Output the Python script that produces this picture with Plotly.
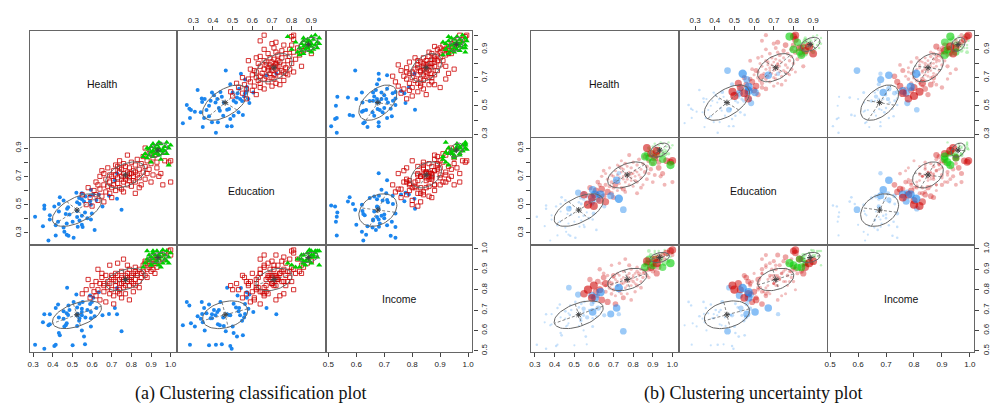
import numpy as np
import plotly.graph_objects as go

variables = ["Health", "Education", "Income"]

# ---- cluster 1 (blue) ----
blue_health = [0.31, 0.35, 0.357, 0.357, 0.378, 0.385, 0.385, 0.408, 0.415, 0.415, 0.427, 0.431, 0.431, 0.436, 0.473,
               0.455, 0.455, 0.459, 0.466, 0.471, 0.471, 0.478, 0.48, 0.485, 0.501, 0.506, 0.52, 0.524, 0.524, 0.524,
               0.527, 0.534, 0.536, 0.536, 0.548, 0.548, 0.548, 0.548, 0.552, 0.559, 0.564, 0.566, 0.576, 0.59, 0.59,
               0.594, 0.594, 0.594, 0.599, 0.606, 0.613, 0.622, 0.634, 0.653, 0.686, 0.727, 0.75, 0.716, 0.727]
blue_education = [0.415, 0.348, 0.495, 0.472, 0.247, 0.425, 0.395, 0.488, 0.283, 0.355, 0.38, 0.452, 0.505, 0.552, 0.472,
                  0.338, 0.53, 0.308, 0.435, 0.288, 0.367, 0.482, 0.28, 0.43, 0.38, 0.267, 0.585, 0.413, 0.455, 0.517,
                  0.345, 0.548, 0.505, 0.388, 0.422, 0.538, 0.358, 0.58, 0.343, 0.522, 0.445, 0.558, 0.405, 0.525, 0.563,
                  0.395, 0.50, 0.605, 0.438, 0.572, 0.322, 0.533, 0.572, 0.488, 0.563, 0.542, 0.465, 0.672, 0.722]
blue_income = [0.53, 0.64, 0.51, 0.68, 0.625, 0.63, 0.68, 0.524, 0.53, 0.71, 0.727, 0.664, 0.588, 0.576, 0.81,
               0.658, 0.694, 0.62, 0.625, 0.635, 0.684, 0.676, 0.723, 0.70, 0.527, 0.74, 0.776, 0.674, 0.622, 0.713,
               0.681, 0.648, 0.731, 0.66, 0.69, 0.674, 0.60, 0.707, 0.74, 0.57, 0.532, 0.664, 0.70, 0.772, 0.73,
               0.66, 0.62, 0.69, 0.74, 0.76, 0.67, 0.71, 0.788, 0.674, 0.681, 0.808, 0.596, 0.71, 0.68]
blue_uncertainty = [0.001, 0, 0.001, 0.001, 0, 0, 0, 0.001, 0, 0.001, 0.002, 0, 0.001, 0.003, 0.15,
                    0, 0.004, 0, 0, 0, 0, 0.001, 0.001, 0.001, 0, 0.002, 0.20, 0, 0, 0.003,
                    0, 0.02, 0.006, 0, 0.001, 0.01, 0, 0.06, 0.002, 0.004, 0, 0.05, 0.002, 0.30, 0.08,
                    0.001, 0.008, 0.35, 0.04, 0.40, 0.002, 0.12, 0.45, 0.05, 0.30, 0.48, 0.25, 0.35, 0.06]

# ---- cluster 2 (red) ----
red_health = [0.55, 0.57, 0.59, 0.60, 0.61, 0.62, 0.62, 0.63, 0.64, 0.64, 0.65, 0.66, 0.66, 0.67, 0.67, 0.68, 0.68,
              0.69, 0.69, 0.70, 0.70, 0.71, 0.71, 0.72, 0.72, 0.72, 0.73, 0.73, 0.74, 0.74, 0.74, 0.75, 0.75, 0.75,
              0.76, 0.76, 0.76, 0.77, 0.77, 0.77, 0.78, 0.78, 0.78, 0.79, 0.79, 0.79, 0.80, 0.80, 0.80, 0.81, 0.81,
              0.82, 0.82, 0.82, 0.83, 0.83, 0.84, 0.84, 0.85, 0.85, 0.86, 0.86, 0.87, 0.87, 0.88, 0.88, 0.89, 0.89,
              0.90, 0.90, 0.91, 0.91, 0.92, 0.93, 0.93, 0.94, 0.95, 0.96, 0.97, 0.99, 1.00, 1.00, 0.69, 0.73, 0.65,
              0.78, 0.71, 0.75, 0.81, 0.84, 0.63, 0.76, 0.79, 0.87, 0.58, 0.70, 0.82, 0.92, 0.74, 0.66]
red_education = [0.57, 0.50, 0.55, 0.49, 0.60, 0.57, 0.66, 0.53, 0.70, 0.61, 0.56, 0.64, 0.72, 0.59, 0.68, 0.63, 0.76,
                 0.66, 0.58, 0.70, 0.62, 0.74, 0.67, 0.60, 0.71, 0.78, 0.65, 0.69, 0.73, 0.62, 0.81, 0.68, 0.70, 0.75,
                 0.66, 0.72, 0.59, 0.70, 0.77, 0.68, 0.73, 0.64, 0.71, 0.69, 0.76, 0.67, 0.72, 0.80, 0.63, 0.74, 0.70,
                 0.78, 0.66, 0.73, 0.71, 0.82, 0.75, 0.69, 0.79, 0.64, 0.73, 0.84, 0.77, 0.68, 0.81, 0.72, 0.86, 0.75,
                 0.79, 0.66, 0.83, 0.71, 0.88, 0.76, 0.80, 0.70, 0.72, 0.64, 0.81, 0.80, 0.66, 0.81, 0.71, 0.77, 0.74,
                 0.85, 0.64, 0.61, 0.67, 0.62, 0.64, 0.79, 0.72, 0.90, 0.62, 0.55, 0.58, 0.85, 0.76, 0.52]
red_income = [0.78, 0.80, 0.76, 0.82, 0.79, 0.84, 0.77, 0.80, 0.83, 0.75, 0.86, 0.79, 0.82, 0.74, 0.87, 0.81, 0.84,
              0.78, 0.83, 0.86, 0.80, 0.77, 0.85, 0.88, 0.82, 0.84, 0.79, 0.87, 0.85, 0.83, 0.80, 0.86, 0.83, 0.89,
              0.81, 0.85, 0.84, 0.87, 0.82, 0.78, 0.86, 0.88, 0.84, 0.85, 0.90, 0.82, 0.87, 0.84, 0.86, 0.88, 0.83,
              0.89, 0.91, 0.85, 0.87, 0.88, 0.84, 0.90, 0.86, 0.88, 0.92, 0.89, 0.87, 0.93, 0.90, 0.86, 0.91, 0.94,
              0.89, 0.92, 0.95, 0.90, 0.93, 0.96, 0.91, 0.94, 0.97, 0.95, 0.98, 0.99, 0.97, 0.995, 0.92, 0.93, 0.88,
              0.92, 0.73, 0.76, 0.79, 0.81, 0.90, 0.95, 0.75, 0.94, 0.85, 0.87, 0.82, 0.88, 0.78, 0.83]
red_uncertainty = [0.35, 0.45, 0.40, 0.42, 0.20, 0.15, 0.08, 0.30, 0.02, 0.25, 0.15, 0.05, 0.01, 0.20, 0.02, 0.04, 0.01,
                   0.03, 0.08, 0.01, 0.03, 0.01, 0.005, 0.01, 0.005, 0.01, 0.01, 0.005, 0.004, 0.02, 0.01, 0.004, 0.004,
                   0.01, 0.008, 0.003, 0.03, 0.003, 0.005, 0.01, 0.003, 0.01, 0.003, 0.003, 0.02, 0.005, 0.004, 0.02,
                   0.008, 0.005, 0.004, 0.02, 0.02, 0.005, 0.006, 0.04, 0.01, 0.02, 0.02, 0.01, 0.05, 0.10, 0.03, 0.03,
                   0.10, 0.02, 0.35, 0.06, 0.06, 0.03, 0.30, 0.04, 0.45, 0.15, 0.12, 0.05, 0.10, 0.04, 0.25, 0.30, 0.05,
                   0.35, 0.02, 0.02, 0.03, 0.05, 0.15, 0.10, 0.02, 0.03, 0.06, 0.04, 0.03, 0.40, 0.12, 0.10, 0.04, 0.20,
                   0.01, 0.30]

# ---- cluster 3 (green) ----
green_health = [0.86, 0.87, 0.88, 0.89, 0.89, 0.90, 0.90, 0.91, 0.91, 0.92, 0.92, 0.93, 0.93, 0.93, 0.94, 0.94,
                0.95, 0.95, 0.96, 0.96, 0.97, 0.97, 0.98, 0.99, 1.00, 0.95, 0.91, 0.98, 0.88, 0.94, 0.99, 0.90]
green_education = [0.84, 0.86, 0.83, 0.89, 0.85, 0.87, 0.91, 0.88, 0.84, 0.90, 0.86, 0.89, 0.92, 0.87, 0.90, 0.85,
                   0.88, 0.93, 0.89, 0.86, 0.91, 0.88, 0.94, 0.90, 0.92, 0.82, 0.93, 0.86, 0.90, 0.94, 0.78, 0.80]
green_income = [0.91, 0.93, 0.95, 0.94, 0.97, 0.92, 0.96, 0.98, 0.95, 0.93, 0.97, 0.96, 0.99, 0.94, 0.97, 0.95,
                0.98, 0.96, 0.995, 0.93, 0.97, 0.95, 0.99, 0.96, 0.98, 0.91, 0.99, 0.94, 0.99, 0.92, 0.93, 0.92]
green_uncertainty = [0.40, 0.15, 0.30, 0.01, 0.05, 0.08, 0.003, 0.002, 0.20, 0.004, 0.02, 0.001, 0.001, 0.01, 0.001,
                     0.10, 0.002, 0.001, 0.001, 0.12, 0.001, 0.005, 0.001, 0.002, 0.001, 0.35, 0.002, 0.02, 0.03,
                     0.001, 0.45, 0.40]

# ---- fitted model (ellipse) parameters ----
cluster_means = [[0.523, 0.462, 0.677], [0.770, 0.710, 0.850], [0.935, 0.885, 0.958]]
cluster_sds = [[0.125, 0.115, 0.068], [0.100, 0.092, 0.055], [0.050, 0.050, 0.025]]
# correlations for (Health,Education), (Health,Income), (Education,Income)
cluster_corr = [[0.56, 0.50, 0.30], [0.45, 0.40, 0.35], [0.40, 0.30, 0.30]]

health_ticks = [0.3, 0.4, 0.5, 0.6, 0.7, 0.8, 0.9, 1.0]
education_ticks = [0.3, 0.4, 0.5, 0.6, 0.7, 0.8, 0.9]
income_ticks = [0.5, 0.6, 0.7, 0.8, 0.9, 1.0]
axis_ranges = [[0.282, 1.028], [0.223, 0.968], [0.494, 1.015]]

cluster_colors = ["#1C86EE", "#CD0000", "#00CD00"]
cluster_rgb = [(28, 134, 238), (205, 0, 0), (0, 205, 0)]
cluster_symbols = ["circle", "square-open", "triangle-up"]
cluster_sizes = [4.0, 4.2, 5.4]

captions = ["(a) Clustering classification plot", "(b) Clustering uncertainty plot"]

# ------------------------------------------------------------------
clusters = [
    (blue_health, blue_education, blue_income, blue_uncertainty),
    (red_health, red_education, red_income, red_uncertainty),
    (green_health, green_education, green_income, green_uncertainty),
]
for c in clusters:
    assert len(set(len(a) for a in c)) == 1, [len(a) for a in c]
cl_data = [np.array(c[:3], dtype=float) for c in clusters]
cl_unc = [np.array(c[3], dtype=float) for c in clusters]

u_all = np.concatenate(cl_unc)
umin, umax = u_all.min(), u_all.max()


def bubble(u):
    x = (u - umin) / (umax - umin)
    r = np.sqrt(x)
    return 2.2 + 6.2 * r, 0.35 + 0.55 * x


def pair_corr(k, a, b):
    key = tuple(sorted((a, b)))
    return cluster_corr[k][{(0, 1): 0, (0, 2): 1, (1, 2): 2}[key]]


def ellipse(k, xv, yv, n=64):
    mx, my = cluster_means[k][xv], cluster_means[k][yv]
    sx, sy = cluster_sds[k][xv], cluster_sds[k][yv]
    rho = pair_corr(k, xv, yv)
    cov = np.array([[sx * sx, rho * sx * sy], [rho * sx * sy, sy * sy]])
    vals, vecs = np.linalg.eigh(cov)
    order = vals.argsort()[::-1]
    vals, vecs = vals[order], vecs[:, order]
    s = np.sqrt(vals)
    t = np.linspace(0, 2 * np.pi, n)
    pts = vecs @ np.vstack([s[0] * np.cos(t), s[1] * np.sin(t)])
    ex, ey = list(mx + pts[0]), list(my + pts[1])
    a1 = vecs[:, 0] * s[0]
    a2 = vecs[:, 1] * s[1]
    axx = [mx - a1[0], mx + a1[0], None, mx - a2[0], mx + a2[0], None]
    axy = [my - a1[1], my + a1[1], None, my - a2[1], my + a2[1], None]
    return ex, ey, axx, axy, mx, my


W, H = 991, 417
panel_offsets = [0, 510]
col_px = [(26, 175), (177, 326), (328, 476)]
row_px = [(27.7, 135), (136.7, 244), (246, 354)]

tick_font = dict(family="Liberation Sans Narrow, Liberation Sans, Arial", size=8, color="#222")
box_color = "#666666"
ellipse_color = "#666666"


def tick_cfg(vals, every, side, angle=0):
    text = [f"{v:.1f}" if k % every == 0 else "" for k, v in enumerate(vals)]
    return dict(tickmode="array", tickvals=vals, ticktext=text, ticks="outside", ticklen=4,
                tickwidth=1, tickcolor="#444", showticklabels=True, side=side, tickangle=angle,
                tickfont=tick_font)


fig = go.Figure()
layout = {}
annotations = []

for p in range(2):
    for r in range(3):
        for c in range(3):
            idx = p * 9 + r * 3 + c + 1
            sfx = "" if idx == 1 else str(idx)
            x0, x1 = col_px[c]
            y0, y1 = row_px[r]
            x0 += panel_offsets[p]
            x1 += panel_offsets[p]
            xa = dict(domain=[x0 / W, x1 / W], range=axis_ranges[c], anchor="y" + sfx,
                      showgrid=False, zeroline=False, showline=True, mirror=True,
                      linecolor=box_color, linewidth=1.4, ticks="", showticklabels=False,
                      fixedrange=True)
            ya = dict(domain=[1 - y1 / H, 1 - y0 / H], range=axis_ranges[r], anchor="x" + sfx,
                      showgrid=False, zeroline=False, showline=True, mirror=True,
                      linecolor=box_color, linewidth=1.4, ticks="", showticklabels=False,
                      fixedrange=True)
            if r == 0 and c == 1:
                xa.update(tick_cfg(education_ticks, 1, "top"))
            if r == 0 and c == 2:
                ya.update(tick_cfg(health_ticks, 2, "right", -90))
            if r == 1 and c == 0:
                ya.update(tick_cfg(education_ticks, 2, "left", -90))
            if r == 2 and c == 0:
                xa.update(tick_cfg(health_ticks, 1, "bottom"))
            if r == 2 and c == 2:
                xa.update(tick_cfg(income_ticks, 1, "bottom"))
                ya.update(tick_cfg(income_ticks, 1, "right", -90))
            layout["xaxis" + sfx] = xa
            layout["yaxis" + sfx] = ya

            if r == c:
                # empty trace so that the diagonal panel is drawn
                fig.add_trace(go.Scatter(x=[None], y=[None], mode="markers", xaxis="x" + sfx, yaxis="y" + sfx,
                                         hoverinfo="skip", showlegend=False))
                annotations.append(dict(text=variables[r], xref="x" + sfx + " domain", yref="y" + sfx + " domain",
                                        x=0.5, y=0.5, showarrow=False,
                                        font=dict(family="Liberation Sans, Arial", size=10.5, color="#111")))
                continue

            xv, yv = c, r
            if p == 0:
                for k in range(3):
                    fig.add_trace(go.Scatter(
                        x=cl_data[k][xv], y=cl_data[k][yv], mode="markers", xaxis="x" + sfx, yaxis="y" + sfx,
                        marker=dict(symbol=cluster_symbols[k], size=cluster_sizes[k], color=cluster_colors[k],
                                    line=dict(width=0.8 if k == 1 else 0, color=cluster_colors[k])),
                        hoverinfo="skip", showlegend=False))
            else:
                xs, ys, us, ks = [], [], [], []
                for k in range(3):
                    xs.extend(cl_data[k][xv]); ys.extend(cl_data[k][yv])
                    us.extend(cl_unc[k]); ks.extend([k] * len(cl_unc[k]))
                xs, ys, us, ks = map(np.array, (xs, ys, us, ks))
                order = np.argsort(us, kind="stable")
                sizes, alphas = bubble(us[order])
                cols = [f"rgba({cluster_rgb[k][0]},{cluster_rgb[k][1]},{cluster_rgb[k][2]},{a:.3f})"
                        for k, a in zip(ks[order], alphas)]
                fig.add_trace(go.Scatter(
                    x=xs[order], y=ys[order], mode="markers", xaxis="x" + sfx, yaxis="y" + sfx,
                    marker=dict(symbol="circle", size=sizes, color=cols, line=dict(width=0)),
                    hoverinfo="skip", showlegend=False))

            ex_all, ey_all, ax_all, ay_all, cx, cy = [], [], [], [], [], []
            for k in range(3):
                ex, ey, axx, axy, mx, my = ellipse(k, xv, yv)
                ex_all += ex + [None]; ey_all += ey + [None]
                ax_all += axx; ay_all += axy
                cx.append(mx); cy.append(my)
            fig.add_trace(go.Scatter(x=ex_all, y=ey_all, mode="lines", xaxis="x" + sfx, yaxis="y" + sfx,
                                     line=dict(color=ellipse_color, width=1), hoverinfo="skip", showlegend=False))
            fig.add_trace(go.Scatter(x=ax_all, y=ay_all, mode="lines", xaxis="x" + sfx, yaxis="y" + sfx,
                                     line=dict(color=ellipse_color, width=0.8, dash="3px,2px"), hoverinfo="skip",
                                     showlegend=False))
            fig.add_trace(go.Scatter(x=cx, y=cy, mode="markers", xaxis="x" + sfx, yaxis="y" + sfx,
                                     marker=dict(symbol="asterisk-open", size=5, color="#444",
                                                 line=dict(width=1, color="#444")),
                                     hoverinfo="skip", showlegend=False))

for p in range(2):
    cx_px = (col_px[0][0] + col_px[2][1]) / 2 + panel_offsets[p]
    annotations.append(dict(text=captions[p], xref="paper", yref="paper", x=cx_px / W, y=1 - 396 / H,
                            showarrow=False, xanchor="center", yanchor="middle",
                            font=dict(family="Liberation Serif, Times New Roman, serif", size=18, color="#111")))

fig.update_layout(width=W, height=H, margin=dict(l=0, r=0, t=0, b=0), paper_bgcolor="white",
                  plot_bgcolor="white", showlegend=False, annotations=annotations, **layout)
fig.write_html("out.html")
